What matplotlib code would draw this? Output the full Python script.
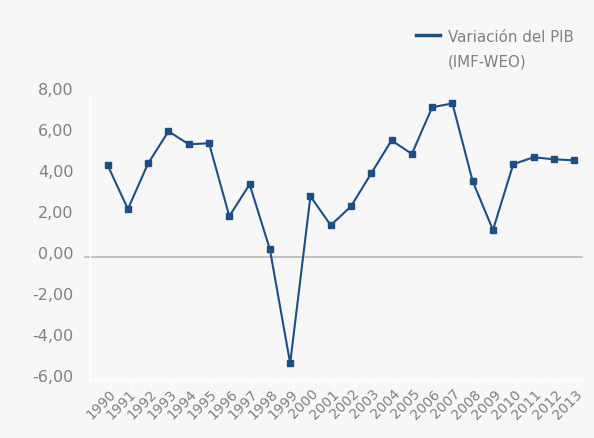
import matplotlib
matplotlib.use("Agg")
import matplotlib.pyplot as plt
from matplotlib.ticker import FuncFormatter
from matplotlib.lines import Line2D
from matplotlib.transforms import ScaledTranslation

years = [str(y) for y in range(1990, 2014)]
pib = [4.45, 2.32, 4.55, 6.10, 5.47, 5.52, 1.97, 3.52, 0.36, -5.19, 2.94, 1.53,
       2.45, 4.06, 5.66, 5.00, 7.27, 7.46, 3.67, 1.30, 4.50, 4.84, 4.74, 4.69]
yticks = [-6, -4, -2, 0, 2, 4, 6, 8]
legend_lines = ["Variación del PIB", "(IMF-WEO)"]

bg = "#f7f7f7"
txt = "#808080"
line_c = "#1b4f8a"

plt.rcParams['font.family'] = ['DejaVu Sans']
W, H = 594, 438
fig = plt.figure(figsize=(W/100, H/100), dpi=100, facecolor=bg)
ax_w = 582 - 90
ax = fig.add_axes([90/W, 1-380/H, ax_w/W, (380-92.3)/H], facecolor=bg)

x = list(range(len(years)))
ax.plot(x, pib, color=line_c, lw=1.5, marker="s", markersize=4.3,
        markerfacecolor=line_c, markeredgecolor=line_c, zorder=3)
ax.axhline(0, xmin=-5/ax_w, xmax=1, color="#b4b4b4", lw=1.1, zorder=2, clip_on=False)
ax.axhline(-6, xmin=-4/ax_w, xmax=1, color="white", lw=1, zorder=1, clip_on=False)

ax.set_xlim(-0.87, 23.39)
ax.set_ylim(-6, 8)
ax.set_yticks(yticks)
ax.yaxis.set_major_formatter(FuncFormatter(lambda v, p: f"{v:.2f}".replace(".", ",")))
ax.tick_params(axis="y", length=0, pad=12, labelsize=11.5, labelcolor=txt)
off = ScaledTranslation(0, 3.5/100, fig.dpi_scale_trans)
for lbl in ax.get_yticklabels():
    lbl.set_transform(lbl.get_transform() + off)

# x ticks between categories
ax.set_xticks([i - 0.85 for i in range(len(years) + 1)], minor=True)
ax.tick_params(axis="x", which="minor", length=5, color="white", width=1)
ax.set_xticks([i + 0.05 for i in x])
ax.set_xticklabels(years, rotation=45, ha="right", va="top", rotation_mode="anchor")
ax.tick_params(axis="x", which="major", length=0, pad=5, labelsize=10, labelcolor=txt)

for s in ["top", "right"]:
    ax.spines[s].set_visible(False)
ax.spines["left"].set_color("white")
ax.spines["bottom"].set_color("white")
ax.spines["left"].set_linewidth(1)
ax.spines["bottom"].set_linewidth(1)

# legend (manual, two-line label with handle on first line)
fig.add_artist(Line2D([416/W, 440/W], [1-35/H, 1-35/H], color=line_c, lw=2.5,
                      transform=fig.transFigure))
fig.text(448/W, 1-37/H, legend_lines[0], color=txt, fontsize=10.8, va="center", ha="left")
fig.text(448/W, 1-62/H, legend_lines[1], color=txt, fontsize=10.8, va="center", ha="left")

fig.savefig("out.png", dpi=100, facecolor=bg)
